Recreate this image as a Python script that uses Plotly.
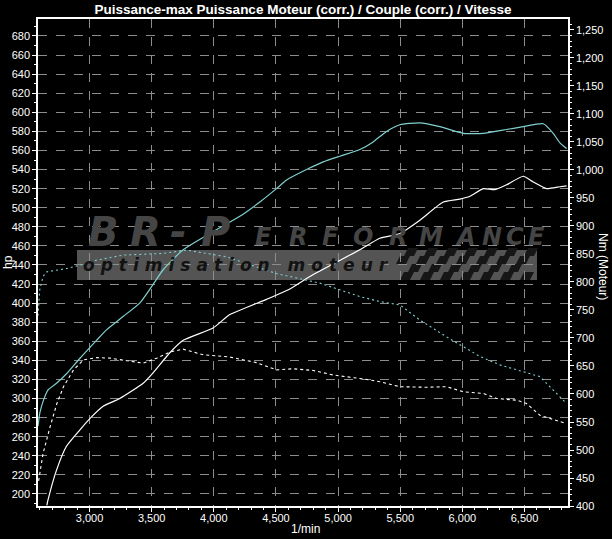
import plotly.graph_objects as go

# ---------------- data ----------------
rpm_pwr_cyan = [2585, 2600, 2626, 2666, 2734, 2814, 2921, 3056, 3136, 3270, 3404, 3498, 3592, 3753,
                3994, 4209, 4370, 4504, 4585, 4746, 4880, 5014, 5175, 5282, 5390, 5497, 5658,
                5819, 6007, 6168, 6356, 6490, 6651, 6731, 6785, 6839]
hp_pwr_cyan = [271, 285, 297, 309, 316, 326, 342, 361, 372, 386, 400, 417, 435, 456,
               475, 491, 506, 520, 529, 540, 548, 554, 561, 569, 580, 587, 589,
               585, 578, 578, 582, 585, 588, 578, 568, 562]

rpm_pwr_white = [2656, 2666, 2734, 2814, 2921, 3002, 3109, 3243, 3431, 3511, 3646, 3753, 3994,
                 4129, 4424, 4600, 4773, 5175, 5336, 5497, 5658, 5846, 5980, 6061, 6168, 6262,
                 6356, 6490, 6570, 6678, 6785, 6839]
hp_pwr_white = [188, 194, 225, 250, 267, 279, 292, 300, 316, 327, 348, 361, 374,
                388, 404, 414, 428, 456, 468, 473, 487, 506, 509, 512, 520, 519,
                524, 533, 527, 520, 522, 523]

rpm_tq_cyan = [2585, 2599, 2626, 2653, 2706, 2814, 2921, 3056, 3270, 3592, 3780, 4102, 4504,
               4853, 5175, 5336, 5497, 5658, 5873, 6007, 6141, 6302, 6490, 6624, 6731, 6825]
nm_tq_cyan = [740, 786, 810, 818, 820, 824, 830, 839, 848, 851, 857, 845, 815,
              798, 774, 765, 759, 732, 702, 685, 667, 652, 640, 631, 607, 586]

rpm_tq_white = [2590, 2626, 2683, 2737, 2790, 2871, 2951, 3058, 3165, 3326, 3431, 3539, 3646,
                3753, 3914, 4129, 4344, 4504, 4638, 4800, 4960, 5229, 5336, 5497, 5712, 5873,
                6007, 6168, 6275, 6436, 6516, 6624, 6731, 6825]
nm_tq_white = [445, 494, 542, 583, 613, 643, 661, 665, 664, 658, 655, 664, 675,
               680, 670, 666, 656, 643, 645, 642, 634, 626, 622, 613, 612, 613,
               604, 601, 592, 589, 583, 562, 554, 548]

x_ticks = [3000, 3500, 4000, 4500, 5000, 5500, 6000, 6500]
hp_ticks = list(range(200, 681, 20))
nm_ticks = list(range(400, 1251, 50))

title_text = "Puissance-max Puissance Moteur (corr.) / Couple (corr.) / Vitesse"

# ---------------- geometry helpers (pixels -> paper) ----------------
W, H = 612, 539
ML, MR, MT, MB = 38, 44, 19, 33
PW, PH = W - ML - MR, H - MT - MB


def px(x):
    return (x - ML) / PW


def py(y):
    return (H - MB - y) / PH


FONT = "Liberation Sans Narrow, Arial Narrow, Liberation Sans, Arial"
CYAN = "#7fd0d0"

fig = go.Figure()
fig.add_trace(go.Scatter(x=rpm_tq_cyan, y=nm_tq_cyan, yaxis="y2", mode="lines",
                         line=dict(color=CYAN, width=1.1, dash="2px,3px"), hoverinfo="skip"))
fig.add_trace(go.Scatter(x=rpm_tq_white, y=nm_tq_white, yaxis="y2", mode="lines",
                         line=dict(color="white", width=1.1, dash="3px,3px"), hoverinfo="skip"))
fig.add_trace(go.Scatter(x=rpm_pwr_cyan, y=hp_pwr_cyan, mode="lines",
                         line=dict(color=CYAN, width=1.2, shape="spline", smoothing=0.5), hoverinfo="skip"))
fig.add_trace(go.Scatter(x=rpm_pwr_white, y=hp_pwr_white, mode="lines",
                         line=dict(color="white", width=1.2, shape="spline", smoothing=0.5), hoverinfo="skip"))

axis_common = dict(showline=True, linecolor="white", linewidth=1.5, ticks="outside",
                   ticklen=4, tickcolor="white", tickfont=dict(family=FONT, size=11, color="white"),
                   zeroline=False)

fig.update_layout(
    width=W, height=H,
    margin=dict(l=ML, r=MR, t=MT, b=MB, autoexpand=False),
    paper_bgcolor="black", plot_bgcolor="black",
    showlegend=False,
    title=dict(text="<b>" + title_text + "</b>", x=(ML + PW / 2) / W, xanchor="center",
               y=1 - 9 / H, yanchor="middle",
               font=dict(family=FONT, size=13.5, color="white")),
    xaxis=dict(range=[2585, 6850], tickvals=x_ticks, tickformat=",d", mirror=True,
               showgrid=True, gridcolor="#8c8c8c", griddash="dash", gridwidth=1,
               ticklabelstandoff=-3,
               minor=dict(dtick=100, tick0=0, ticks="outside", ticklen=2, tickcolor="white", showgrid=False),
               **axis_common),
    yaxis=dict(range=[187.4, 697.8], tickvals=hp_ticks, mirror=True,
               showgrid=True, gridcolor="#8c8c8c", griddash="dash", gridwidth=1,
               minor=dict(dtick=10, tick0=0, ticks="outside", ticklen=2, tickcolor="white", showgrid=False),
               **axis_common),
    yaxis2=dict(range=[400, 1269.6], tickvals=nm_ticks, tickformat=",d", overlaying="y",
                side="right", showgrid=False,
                minor=dict(dtick=10, tick0=0, ticks="outside", ticklen=2, tickcolor="white", showgrid=False),
                **axis_common),
)


def note(text, x, y, size, color, family=FONT, angle=0):
    fig.add_annotation(text=text, xref="paper", yref="paper", x=px(x), y=py(y),
                       xanchor="center", yanchor="middle", showarrow=False, textangle=angle,
                       font=dict(family=family, size=size, color=color))


# axis titles
note("hp", 8, 262, 12, "white", angle=-90)
note("Nm (Moteur)", 603, 266, 12, "white", angle=90)
note("1/min", 305, 529, 12, "white")

# ---------------- watermark ----------------
shapes = []
shapes.append(dict(type="rect", xref="paper", yref="paper", x0=px(77), x1=px(537), y0=py(280), y1=py(250),
                   fillcolor="#545454", line=dict(width=0), layer="below"))
# checkered flag
cw, ch, skew = 10, 8, 4
for r in range(4):
    for c in range(14):
        if (r + c) % 2:
            continue
        x0 = 400 + c * cw - r * 2
        yb = 280 - r * ch
        yt = yb - ch
        if x0 + cw + skew > 538:
            continue
        path = "M {:.4f},{:.4f} L {:.4f},{:.4f} L {:.4f},{:.4f} L {:.4f},{:.4f} Z".format(
            px(x0), py(yb), px(x0 + cw), py(yb), px(x0 + cw + skew), py(yt), px(x0 + skew), py(yt))
        shapes.append(dict(type="path", xref="paper", yref="paper", path=path,
                           fillcolor="#161616", line=dict(width=0), layer="below"))
fig.update_layout(shapes=shapes)

WM = "#454545"
big_letters = ["B", "R", "-", "P"]
big_x = [103, 145, 178, 215]
for ch_, xc in zip(big_letters, big_x):
    note("<b><i>" + ch_ + "</i></b>", xc, 232, 40, WM, family="DejaVu Sans")
small_letters = list("ERFORMANCE")
small_x = [263, 298, 330, 363, 398, 431, 465, 492, 515, 536]
for ch_, xc in zip(small_letters, small_x):
    note("<b><i>" + ch_ + "</i></b>", xc, 237, 24, WM, family="DejaVu Sans")
note("<b><i><span style='letter-spacing:6px'>optimisation moteur</span></i></b>", 238, 265, 17, "#121212",
     family="DejaVu Sans")

fig.write_html("out.html", config={"displayModeBar": False},
               post_script="document.body.style.margin='0';document.body.style.overflow='hidden';")
